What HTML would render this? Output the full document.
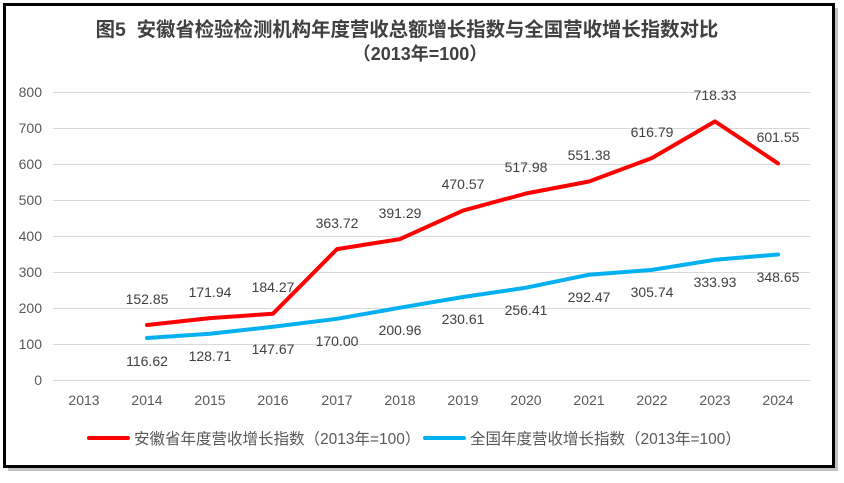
<!DOCTYPE html><html><head><meta charset="utf-8"><style>
body{margin:0;background:#fff;width:844px;height:478px;overflow:hidden;font-family:"Liberation Sans","Noto Sans CJK SC",sans-serif}
</style></head><body>
<svg width="844" height="478" xmlns="http://www.w3.org/2000/svg" font-family="Liberation Sans, Noto Sans CJK SC, sans-serif">
<rect x="8" y="8" width="830" height="463" fill="#9a9a9a" opacity="0.6"/>
<rect x="4.5" y="4.5" width="829" height="462" fill="#fff" stroke="#000" stroke-width="3"/>
<text x="407" y="36" text-anchor="middle" font-size="19.4" font-weight="bold" fill="#404040" xml:space="preserve">图5  安徽省检验检测机构年度营收总额增长指数与全国营收增长指数对比</text>
<text x="420" y="60" text-anchor="middle" font-size="18" font-weight="bold" fill="#404040">（2013年=100）</text>
<g stroke="#d9d9d9" stroke-width="1">
<line x1="53" x2="810" y1="92.5" y2="92.5"/><line x1="53" x2="810" y1="128.5" y2="128.5"/><line x1="53" x2="810" y1="164.5" y2="164.5"/><line x1="53" x2="810" y1="200.5" y2="200.5"/><line x1="53" x2="810" y1="236.5" y2="236.5"/><line x1="53" x2="810" y1="272.5" y2="272.5"/><line x1="53" x2="810" y1="308.5" y2="308.5"/><line x1="53" x2="810" y1="344.5" y2="344.5"/><line x1="53" x2="810" y1="380.5" y2="380.5"/>
</g>
<g font-size="14" fill="#595959" text-anchor="end">
<text x="42" y="97">800</text><text x="42" y="133">700</text><text x="42" y="169">600</text><text x="42" y="205">500</text><text x="42" y="241">400</text><text x="42" y="277">300</text><text x="42" y="313">200</text><text x="42" y="349">100</text><text x="42" y="385">0</text>
</g>
<g font-size="14" fill="#595959" text-anchor="middle">
<text x="84" y="405">2013</text><text x="147" y="405">2014</text><text x="210" y="405">2015</text><text x="273" y="405">2016</text><text x="337" y="405">2017</text><text x="400" y="405">2018</text><text x="463" y="405">2019</text><text x="526" y="405">2020</text><text x="589" y="405">2021</text><text x="652" y="405">2022</text><text x="715" y="405">2023</text><text x="778" y="405">2024</text>
</g>
<polyline fill="none" stroke="#ff0000" stroke-width="4" stroke-linejoin="round" stroke-linecap="round" points="147,325 210,318.1 273,313.7 337,249.1 400,239.1 463,210.6 526,193.5 589,181.5 652,158 715,121.4 778,163.4"/>
<polyline fill="none" stroke="#00b0f0" stroke-width="4" stroke-linejoin="round" stroke-linecap="round" points="147,338 210,333.7 273,326.8 337,318.8 400,307.7 463,297 526,287.7 589,274.7 652,269.9 715,259.8 778,254.5"/>
<g font-size="14" fill="#404040" text-anchor="middle">
<text x="147" y="304">152.85</text><text x="210" y="297">171.94</text><text x="273" y="292">184.27</text><text x="337" y="228">363.72</text><text x="400" y="218">391.29</text><text x="463" y="189">470.57</text><text x="526" y="172">517.98</text><text x="589" y="160">551.38</text><text x="652" y="137">616.79</text><text x="715" y="100">718.33</text><text x="778" y="142">601.55</text>
<text x="147" y="366">116.62</text><text x="210" y="361">128.71</text><text x="273" y="354">147.67</text><text x="337" y="346">170.00</text><text x="400" y="335">200.96</text><text x="463" y="324">230.61</text><text x="526" y="315">256.41</text><text x="589" y="302">292.47</text><text x="652" y="297">305.74</text><text x="715" y="287">333.93</text><text x="778" y="282">348.65</text>
</g>
<line x1="89" x2="128" y1="438" y2="438" stroke="#ff0000" stroke-width="4" stroke-linecap="round"/>
<text x="134" y="444" font-size="15.5" fill="#595959">安徽省年度营收增长指数（2013年=100）</text>
<line x1="425" x2="464" y1="438" y2="438" stroke="#00b0f0" stroke-width="4" stroke-linecap="round"/>
<text x="470" y="444" font-size="15.5" fill="#595959">全国年度营收增长指数（2013年=100）</text>
</svg>
</body></html>
